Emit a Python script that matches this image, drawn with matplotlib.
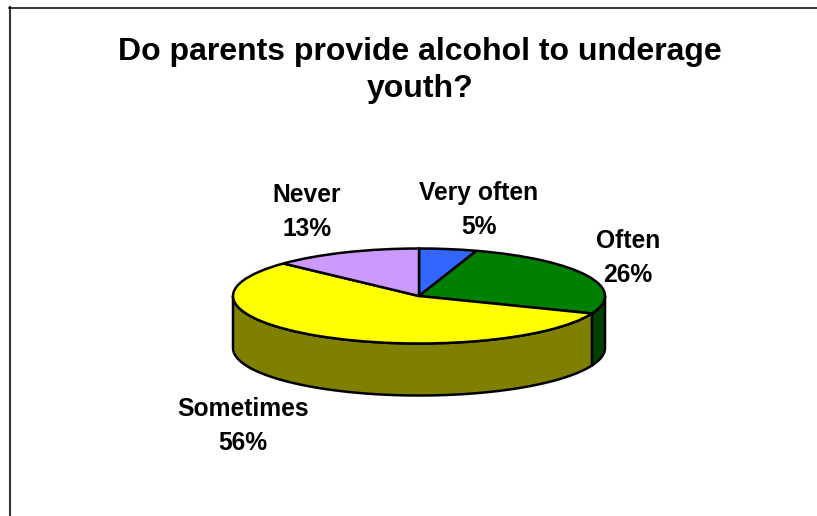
"""Recreate the 3D-look pie chart: do parents provide alcohol to underage youth."""
import matplotlib
matplotlib.use("Agg")
import matplotlib.pyplot as plt
import numpy as np

plt.rcParams["font.family"] = ["Liberation Sans", "DejaVu Sans"]

# ── Data ──────────────────────────────────────────────────────────────────────

categories = ["Very often", "Often", "Sometimes", "Never"]
values = [5, 26, 56, 13]
top_colors = ["#3366FF", "#008000", "#FFFF00", "#CC99FF"]
side_colors = ["#1A3380", "#004000", "#808000", "#664D80"]
title = "Do parents provide alcohol to underage\nyouth?"

# label centres in pixels
label_xy = [(479, 210), (628, 258), (243, 426), (307, 212)]

# ── Layout (pixels) ───────────────────────────────────────────────────────────

W, H = 817, 516
CX, CY = 419, 296
RX, RY = 186, 47.5
DEPTH = 52 / RY
EDGE = 1.8


def fx(x):
    return x / W


def fy(y):
    return 1 - y / H


fig = plt.figure(figsize=(W / 100, H / 100), dpi=100, facecolor="white")
ax = fig.add_axes([0, 0, 1, 1])

# top face
ax.pie(values, colors=top_colors, startangle=90, counterclock=False, radius=1,
       wedgeprops={"edgecolor": "black", "linewidth": EDGE, "zorder": 3})

ax.set_aspect("auto")
ax.set_xlim(-CX / RX, (W - CX) / RX)
ax.set_ylim(-(H - CY) / RY, CY / RY)
ax.set_axis_off()

# side wall: only the front half of the rim (90..270 deg clockwise from top)
edges = np.cumsum([0] + values) / sum(values) * 360
for start, end, col in zip(edges[:-1], edges[1:], side_colors):
    a0, a1 = max(start, 90), min(end, 270)
    if a1 <= a0:
        continue
    t = np.radians(np.linspace(a0, a1, 80))
    x, y = np.sin(t), np.cos(t)
    ax.fill(np.r_[x, x[::-1]], np.r_[y, y[::-1] - DEPTH], facecolor=col,
            edgecolor="black", linewidth=EDGE, zorder=2, joinstyle="round")

# ── Text ──────────────────────────────────────────────────────────────────────

fig.text(fx(420), fy(70.5), title, ha="center", va="center", fontsize=23,
         fontweight="bold", linespacing=1.34, color="black")

for name, val, (lx, ly) in zip(categories, values, label_xy):
    fig.text(fx(lx), fy(ly), f"{name}\n{val}%", ha="center", va="center",
             fontsize=17.7, fontweight="bold", linespacing=1.5, color="black")

# ── Frame: top and left border only ───────────────────────────────────────────

fig.add_artist(plt.Line2D([fx(10), fx(10)], [fy(7), 0], color="#333333", linewidth=1.5))
fig.add_artist(plt.Line2D([fx(9), 1], [fy(7.5), fy(7.5)], color="black", linewidth=1.1))

fig.savefig("out.png", dpi=100)
